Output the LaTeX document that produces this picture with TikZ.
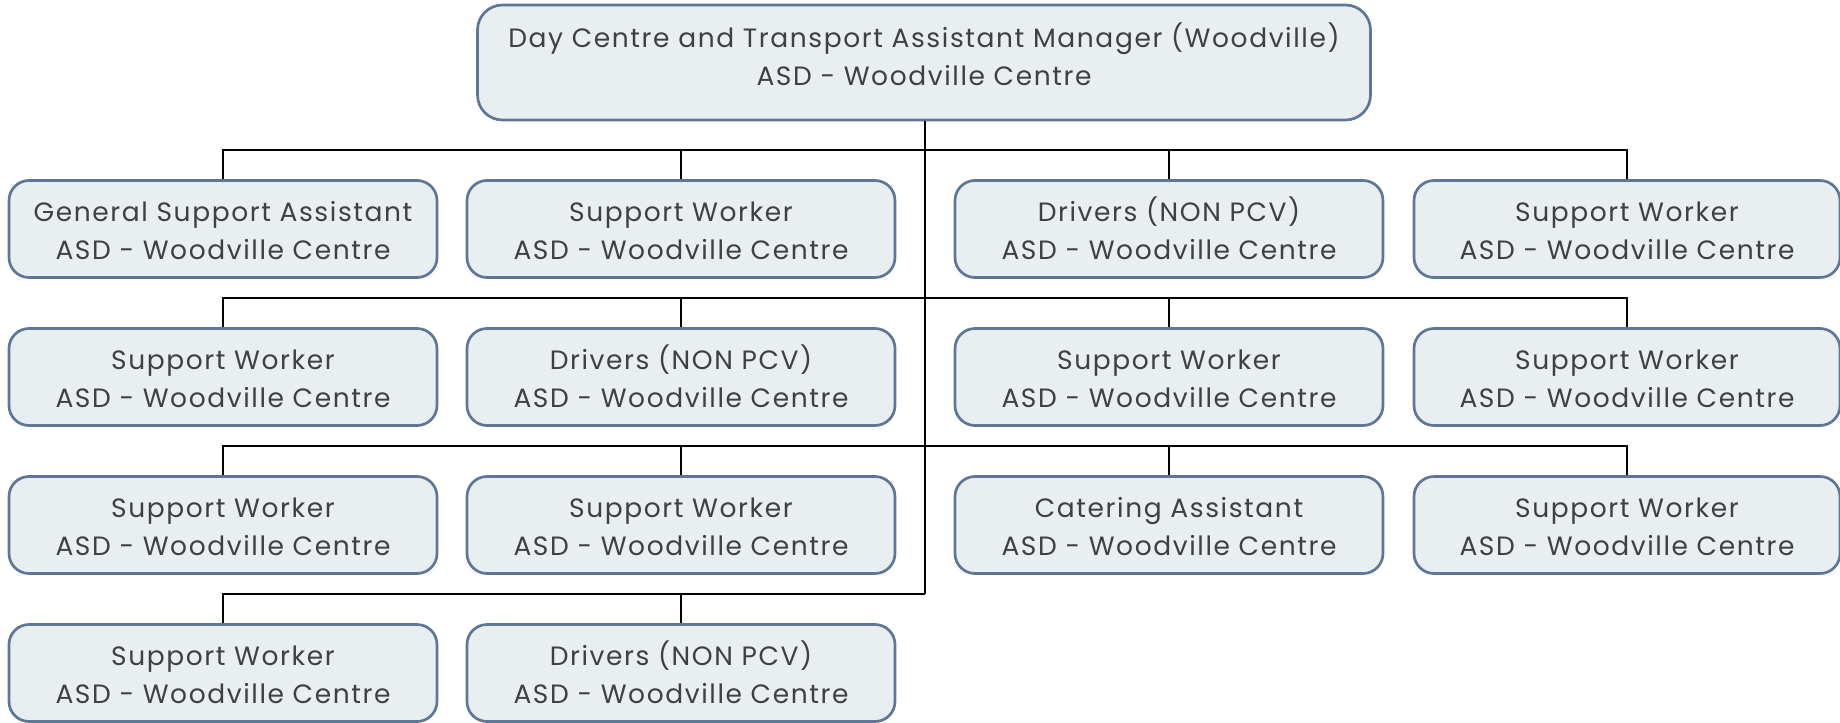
\documentclass[tikz,border=0pt]{standalone}
\usepackage{fontspec}
\setmainfont{Poppins}[LetterSpace=6]
\definecolor{boxfill}{HTML}{E9EEF1}
\definecolor{boxline}{HTML}{5E7698}
\definecolor{txt}{HTML}{404040}
\newcommand\twoln[2]{\rule{0pt}{35pt}#1\\#2\rule[-11.4pt]{0pt}{11.4pt}}
\newcommand\twotop[2]{\rule{0pt}{26.6pt}#1\\#2\rule[-19pt]{0pt}{19pt}}
\begin{document}
\begin{tikzpicture}[x=1pt,y=-1pt,
  role/.style={draw=boxline, line width=2.7pt, fill=boxfill, rounded corners=20pt,
    minimum width=428pt, minimum height=97pt, inner sep=0pt, align=center,
    text=txt, font=\fontsize{26.5pt}{38pt}\selectfont},
  conn/.style={draw=black, line width=2.8pt}]
\useasboundingbox (0,0) rectangle (1840,723);
\node[role, minimum width=893pt, minimum height=115pt, rounded corners=25pt] (top) at (924,62.5)
  {\twotop{Day Centre and Transport Assistant Manager (Woodville)}{ASD - Woodville Centre}};
% row 1
\node[role] (a1) at (223,229) {\twoln{General Support Assistant}{ASD - Woodville Centre}};
\node[role] (a2) at (681,229) {\twoln{Support Worker}{ASD - Woodville Centre}};
\node[role] (a3) at (1169,229) {\twoln{Drivers (NON PCV)}{ASD - Woodville Centre}};
\node[role, minimum width=426pt] (a4) at (1627,229) {\twoln{Support Worker}{ASD - Woodville Centre}};
% row 2
\node[role] (b1) at (223,377) {\twoln{Support Worker}{ASD - Woodville Centre}};
\node[role] (b2) at (681,377) {\twoln{Drivers (NON PCV)}{ASD - Woodville Centre}};
\node[role] (b3) at (1169,377) {\twoln{Support Worker}{ASD - Woodville Centre}};
\node[role, minimum width=426pt] (b4) at (1627,377) {\twoln{Support Worker}{ASD - Woodville Centre}};
% row 3
\node[role] (c1) at (223,525) {\twoln{Support Worker}{ASD - Woodville Centre}};
\node[role] (c2) at (681,525) {\twoln{Support Worker}{ASD - Woodville Centre}};
\node[role] (c3) at (1169,525) {\twoln{Catering Assistant}{ASD - Woodville Centre}};
\node[role, minimum width=426pt] (c4) at (1627,525) {\twoln{Support Worker}{ASD - Woodville Centre}};
% row 4
\node[role] (d1) at (223,673) {\twoln{Support Worker}{ASD - Woodville Centre}};
\node[role] (d2) at (681,673) {\twoln{Drivers (NON PCV)}{ASD - Woodville Centre}};
% bus coordinates
\coordinate (j1) at (925,150);
\coordinate (j2) at (925,298);
\coordinate (j3) at (925,446);
\coordinate (j4) at (925,594);
\draw[conn] (top.south -| j1) -- (j4);
\foreach \r/\j in {a/j1,b/j2,c/j3}{
  \draw[conn] (\j) -| (\r1.north);
  \draw[conn] (\j) -| (\r2.north);
  \draw[conn] (\j) -| (\r3.north);
  \draw[conn] (\j) -| (\r4.north);
}
\draw[conn] (j4) -| (d1.north);
\draw[conn] (j4) -| (d2.north);
\end{tikzpicture}
\end{document}
